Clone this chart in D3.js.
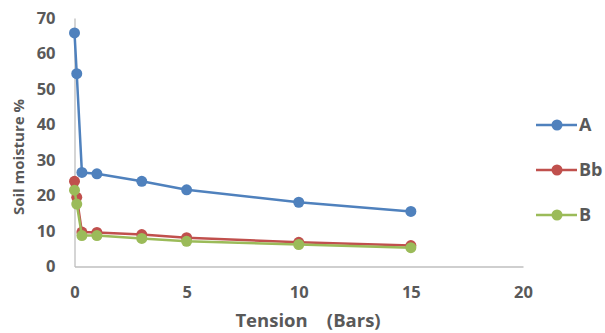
<!DOCTYPE html>
<html><head><meta charset="utf-8">
<script src="https://cdn.jsdelivr.net/npm/d3@7"></script>
<style>body{margin:0;background:#fff}</style>
</head><body><svg id="c" width="605" height="333"></svg>
<script>
const tension = [0, 0.1, 0.33, 1, 3, 5, 10, 15];
const seriesNames = ["A", "Bb", "B"];
const valuesA = [65.8, 54.3, 26.5, 26.1, 24.0, 21.6, 18.1, 15.5];
const valuesBb = [24.0, 19.5, 9.7, 9.6, 9.0, 8.1, 6.8, 5.9];
const valuesB = [21.5, 17.6, 8.7, 8.7, 7.9, 7.1, 6.2, 5.3];
const xTicks = [0, 5, 10, 15, 20];
const yTicks = [0, 10, 20, 30, 40, 50, 60, 70];
const colors = ["#4F81BD", "#C0504D", "#9BBB59"];
const allValues = [valuesA, valuesBb, valuesB];

const svg = d3.select("#c");
const font = "'Open Sans', sans-serif";
const x = d3.scaleLinear().domain([0, 20]).range([74.5, 523]);
const y = d3.scaleLinear().domain([0, 70]).range([266.5, 18]);

// axes
const xa = svg.append("g").attr("transform", "translate(0,266.5)")
  .call(d3.axisBottom(x).tickValues(xTicks).tickSize(0).tickPadding(20));
const ya = svg.append("g").attr("transform", "translate(74.5,0)")
  .call(d3.axisLeft(y).tickValues(yTicks).tickSize(0).tickPadding(19));
[xa, ya].forEach(g => {
  g.select(".domain").attr("stroke", "#BFBFBF").attr("stroke-width", 1.3);
  g.selectAll("text").attr("font-family", font).attr("font-weight", "bold")
    .attr("font-size", 16.5).attr("fill", "#595959");
});

const line = d3.line().x((d, i) => x(tension[i])).y(d => y(d));
allValues.forEach((vals, k) => {
  svg.append("path").datum(vals).attr("d", line).attr("fill", "none")
    .attr("stroke", colors[k]).attr("stroke-width", 2.5).attr("stroke-linejoin", "round");
  svg.selectAll(null).data(vals).enter().append("circle")
    .attr("cx", (d, i) => x(tension[i])).attr("cy", d => y(d)).attr("r", 5.5)
    .attr("fill", colors[k]);
});

// legend
const legY = [125, 170, 215];
seriesNames.forEach((n, k) => {
  const g = svg.append("g");
  g.append("line").attr("x1", 536).attr("x2", 577).attr("y1", legY[k]).attr("y2", legY[k])
    .attr("stroke", colors[k]).attr("stroke-width", 2.5);
  g.append("circle").attr("cx", 557).attr("cy", legY[k]).attr("r", 5.5).attr("fill", colors[k]);
  g.append("text").attr("x", 579).attr("y", legY[k]).attr("dy", "0.36em")
    .attr("font-family", font).attr("font-weight", "bold").attr("font-size", 18)
    .attr("fill", "#595959").text(n);
});

// titles
svg.append("text").attr("x", 308).attr("y", 327).attr("text-anchor", "middle")
  .attr("font-family", font).attr("font-weight", "bold").attr("font-size", 18.5)
  .attr("fill", "#595959").style("white-space", "pre").text("Tension    (Bars)");
svg.append("text").attr("transform", "translate(24,157) rotate(-90)").attr("text-anchor", "middle")
  .attr("font-family", font).attr("font-weight", "bold").attr("font-size", 15)
  .attr("fill", "#595959").text("Soil moisture %");
</script></body></html>
